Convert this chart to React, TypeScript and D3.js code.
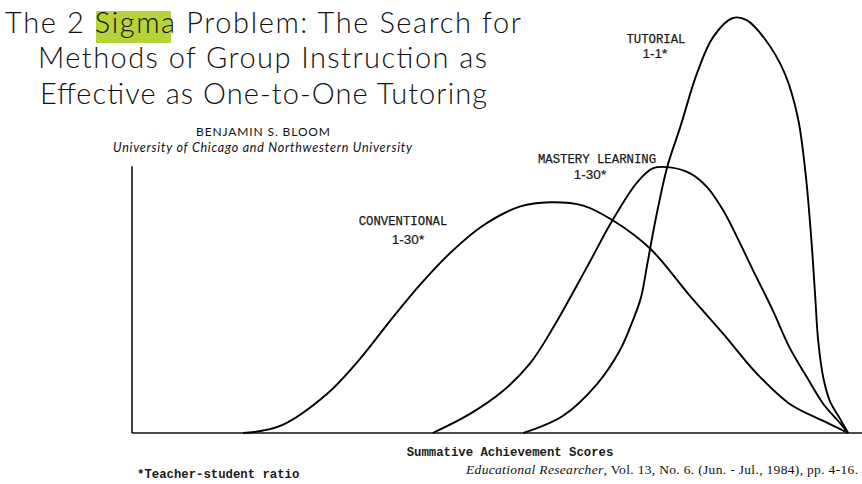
import React from "react";
import * as d3 from "d3";

// Achievement score (x, 0-100) vs relative frequency (y, 0-100)
const conventionalX = [15.2, 20.3, 26.7, 31.2, 35.3, 39.5, 43.6, 48.1, 53.2, 57.3, 61.8, 65.9, 71.0, 76.4, 81.0, 85.6, 90.1, 94.7, 98.1];
const conventionalY = [0, 1.7, 9.4, 17.8, 26.9, 35.8, 43.4, 50.0, 54.6, 55.6, 54.8, 51.2, 44.4, 33.1, 23.9, 14.3, 7.0, 2.9, 0];

const masteryX = [41.2, 46.3, 50.8, 54.5, 57.7, 62.3, 65.8, 69.2, 71.4, 73.7, 76.4, 78.8, 81.0, 83.3, 85.1, 87.0, 88.0, 90.1, 92.5, 94.7, 97.0, 98.1];
const masteryY = [0, 4.6, 10.1, 16.7, 25.4, 39.9, 51.2, 60.4, 63.8, 64.0, 62.6, 59.2, 53.6, 45.7, 39.1, 32.4, 28.7, 20.5, 13.3, 7.0, 2.4, 0];

const tutorialX = [53.6, 59.0, 63.7, 66.8, 68.6, 69.7, 70.6, 71.7, 73.3, 75.1, 77.4, 79.6, 82.3, 84.2, 86.8, 89.4, 91.2, 92.3, 93.1, 93.6, 94.0, 94.7, 95.6, 97.0, 98.1];
const tutorialY = [0, 4.1, 11.8, 19.8, 27.1, 32.5, 40.8, 51.2, 64.0, 73.7, 86.7, 95.4, 100, 99.5, 94.7, 86.7, 76.1, 62.0, 45.7, 32.6, 22.2, 13.3, 7.7, 3.4, 0];

const titleLines = [
  "The 2 Sigma Problem: The Search for",
  "Methods of Group Instruction as",
  "Effective as One-to-One Tutoring",
];
const author = "BENJAMIN S. BLOOM";
const affiliation = "University of Chicago and Northwestern University";
const xAxisLabel = "Summative Achievement Scores";
const footnote = "*Teacher-student ratio";
const citeJournal = "Educational Researcher";
const citeRest = ", Vol. 13, No. 6. (Jun. - Jul., 1984), pp. 4-16.";

const seriesNames = ["CONVENTIONAL", "MASTERY LEARNING", "TUTORIAL"];
const seriesRatios = ["1-30*", "1-30*", "1-1*"];

const W = 862;
const H = 484;

export default function App() {
  const x = d3.scaleLinear().domain([0, 100]).range([132, 862]);
  const y = d3.scaleLinear().domain([0, 100]).range([433, 18]);
  const line = d3
    .line<[number, number]>()
    .x((d) => x(d[0]))
    .y((d) => y(d[1]))
    .curve(d3.curveCatmullRom.alpha(0.5));

  const series = [
    { xs: conventionalX, ys: conventionalY },
    { xs: masteryX, ys: masteryY },
    { xs: tutorialX, ys: tutorialY },
  ];

  const yAxisTop = 64.3;
  const mono = "'Liberation Mono', 'DejaVu Sans Mono', monospace";
  const labelPos = [
    { nx: 403, ny: 225, rx: 408, ry: 244 },
    { nx: 597, ny: 163, rx: 590, ry: 179 },
    { nx: 656, ny: 43, rx: 655, ry: 58 },
  ];

  return (
    <svg
      width={W}
      height={H}
      style={{ position: "absolute", left: 0, top: 0, background: "#fff" }}
    >
      <rect x={0} y={0} width={W} height={H} fill="#fff" />
      {/* highlight behind "Sigma" */}
      <rect x={96} y={11} width={75} height={32} fill="#b6d33a" />
      <g fontFamily="Lato, 'Open Sans', sans-serif" fontWeight={300} fill="#111" textAnchor="middle">
        <text x={263} y={33} fontSize={29} textLength={516} lengthAdjust="spacing">
          {titleLines[0]}
        </text>
        <text x={262.5} y={68} fontSize={29} textLength={449} lengthAdjust="spacing">
          {titleLines[1]}
        </text>
        <text x={263.5} y={104} fontSize={29} textLength={447} lengthAdjust="spacing">
          {titleLines[2]}
        </text>
        <text x={263} y={136} fontSize={12} fontWeight={400} textLength={134} lengthAdjust="spacing">
          {author}
        </text>
        <text x={262.5} y={152} fontSize={12.5} fontWeight={400} fontStyle="italic" textLength={299} lengthAdjust="spacing">
          {affiliation}
        </text>
      </g>

      {/* axes */}
      <line x1={x(0)} x2={x(0)} y1={y(0)} y2={y(yAxisTop)} stroke="#111" strokeWidth={1.6} />
      <line x1={x(0)} x2={x(100)} y1={y(0)} y2={y(0)} stroke="#111" strokeWidth={1.6} />

      {series.map((s, i) => (
        <path
          key={i}
          d={line(s.xs.map((v, j) => [v, s.ys[j]] as [number, number])) || ""}
          fill="none"
          stroke="#000"
          strokeWidth={1.9}
          strokeLinejoin="round"
        />
      ))}

      {seriesNames.map((n, i) => (
        <g key={n}>
          <text
            x={labelPos[i].nx}
            y={labelPos[i].ny}
            fontFamily={mono}
            fontSize={12.3}
            textAnchor="middle"
            fill="#1a1a1a"
            stroke="#1a1a1a"
            strokeWidth={0.25}
          >
            {n}
          </text>
          <text
            x={labelPos[i].rx}
            y={labelPos[i].ry}
            fontFamily="'Liberation Sans', Arial, sans-serif"
            fontSize={13.5}
            textAnchor="middle"
            fill="#1a1a1a"
            stroke="#1a1a1a"
            strokeWidth={0.2}
          >
            {seriesRatios[i]}
          </text>
        </g>
      ))}

      <text
        x={510}
        y={456}
        fontFamily={mono}
        fontSize={12.3}
        fontWeight="bold"
        textAnchor="middle"
        fill="#1a1a1a"
      >
        {xAxisLabel}
      </text>
      <text x={137} y={478} fontFamily={mono} fontSize={12.3} fontWeight="bold" fill="#1a1a1a">
        {footnote}
      </text>
      <text
        x={466}
        y={474}
        fontFamily="'Liberation Serif', 'Times New Roman', serif"
        fontSize={13.5}
        fill="#111"
        textLength={392}
        lengthAdjust="spacing"
      >
        <tspan fontStyle="italic">{citeJournal}</tspan>
        <tspan>{citeRest}</tspan>
      </text>
    </svg>
  );
}
